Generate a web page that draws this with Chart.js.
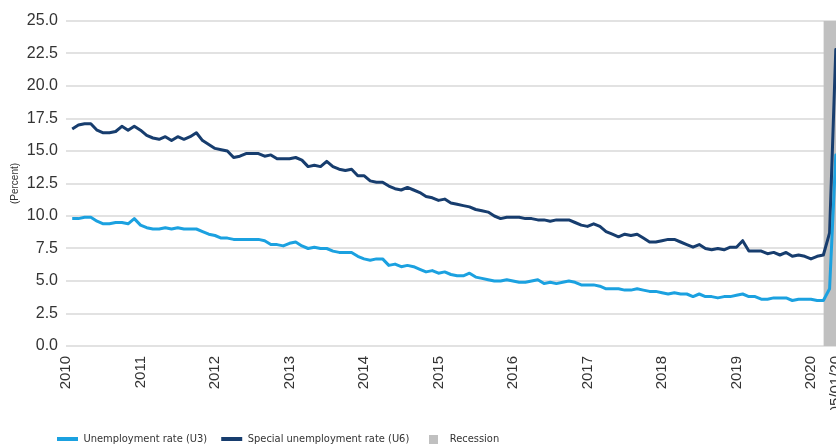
<!DOCTYPE html>
<html>
<head>
<meta charset="utf-8">
<script src="https://cdn.jsdelivr.net/npm/chart.js@4/dist/chart.umd.min.js"></script>
<style>
html,body{margin:0;padding:0;overflow:hidden;background:#fff;width:836px;height:445px}
#wrap{position:relative;width:842px;height:445px}
</style>
</head>
<body>
<div id="wrap"><canvas id="c"></canvas></div>
<script>
// Monthly series, Jan 2010 .. May 2020 (percent)
const yearLabels = ['2010','2011','2012','2013','2014','2015','2016','2017','2018','2019','2020'];
const endLabel = '05/01/20';
const u3 = [
  9.8, 9.8, 9.9, 9.9, 9.6, 9.4, 9.4, 9.5, 9.5, 9.4, 9.8, 9.3,
  9.1, 9.0, 9.0, 9.1, 9.0, 9.1, 9.0, 9.0, 9.0, 8.8, 8.6, 8.5,
  8.3, 8.3, 8.2, 8.2, 8.2, 8.2, 8.2, 8.1, 7.8, 7.8, 7.7, 7.9,
  8.0, 7.7, 7.5, 7.6, 7.5, 7.5, 7.3, 7.2, 7.2, 7.2, 6.9, 6.7,
  6.6, 6.7, 6.7, 6.2, 6.3, 6.1, 6.2, 6.1, 5.9, 5.7, 5.8, 5.6,
  5.7, 5.5, 5.4, 5.4, 5.6, 5.3, 5.2, 5.1, 5.0, 5.0, 5.1, 5.0,
  4.9, 4.9, 5.0, 5.1, 4.8, 4.9, 4.8, 4.9, 5.0, 4.9, 4.7, 4.7,
  4.7, 4.6, 4.4, 4.4, 4.4, 4.3, 4.3, 4.4, 4.3, 4.2, 4.2, 4.1,
  4.0, 4.1, 4.0, 4.0, 3.8, 4.0, 3.8, 3.8, 3.7, 3.8, 3.8, 3.9,
  4.0, 3.8, 3.8, 3.6, 3.6, 3.7, 3.7, 3.7, 3.5, 3.6, 3.6, 3.6,
  3.5, 3.5, 4.4, 14.7, 13.3
];
const u6 = [
  16.7, 17.0, 17.1, 17.1, 16.6, 16.4, 16.4, 16.5, 16.9, 16.6, 16.9, 16.6,
  16.2, 16.0, 15.9, 16.1, 15.8, 16.1, 15.9, 16.1, 16.4, 15.8, 15.5, 15.2,
  15.1, 15.0, 14.5, 14.6, 14.8, 14.8, 14.8, 14.6, 14.7, 14.4, 14.4, 14.4,
  14.5, 14.3, 13.8, 13.9, 13.8, 14.2, 13.8, 13.6, 13.5, 13.6, 13.1, 13.1,
  12.7, 12.6, 12.6, 12.3, 12.1, 12.0, 12.2, 12.0, 11.8, 11.5, 11.4, 11.2,
  11.3, 11.0, 10.9, 10.8, 10.7, 10.5, 10.4, 10.3, 10.0, 9.8, 9.9, 9.9,
  9.9, 9.8, 9.8, 9.7, 9.7, 9.6, 9.7, 9.7, 9.7, 9.5, 9.3, 9.2,
  9.4, 9.2, 8.8, 8.6, 8.4, 8.6, 8.5, 8.6, 8.3, 8.0, 8.0, 8.1,
  8.2, 8.2, 8.0, 7.8, 7.6, 7.8, 7.5, 7.4, 7.5, 7.4, 7.6, 7.6,
  8.1, 7.3, 7.3, 7.3, 7.1, 7.2, 7.0, 7.2, 6.9, 7.0, 6.9, 6.7,
  6.9, 7.0, 8.7, 22.8, 21.2
];
const recessionStartMonth = 121;   // Feb 2020 (month index from Jan 2010)
const recessionTop = 25;
const yMin = 0, yMax = 25, yStep = 2.5;

// month i is plotted at the end of the month (start of month i+1)
const pos = i => i + 1;
const toPoints = arr => arr.map((v, i) => ({x: pos(i), y: v}));
const lastMonth = u3.length - 1;
const tickValues = yearLabels.map((_, k) => k * 12).concat([lastMonth]);
const tickText = yearLabels.concat([endLabel]);

const tickFont = "'Liberation Sans', Arial, sans-serif";
const legendFont = "'DejaVu Sans Condensed', 'Liberation Sans', sans-serif";

const CANVAS_H = 445, PLOT_BOTTOM = 346;

const sq = document.createElement('canvas');
sq.width = 9; sq.height = 9;
(function(){const g = sq.getContext('2d'); g.fillStyle = '#c0c0c0'; g.fillRect(0,0,9,9);})();

const legendShift = {
  id: 'legendShift',
  afterLayout(chart) {
    if (chart.legend) { chart.legend.left = 43; chart.legend.top = 419.5; }
  }
};

new Chart(document.getElementById('c'), {
  type: 'line',
  data: {
    datasets: [
      {label: 'Unemployment rate (U3)', data: toPoints(u3), borderColor: '#1ba1e0', backgroundColor: '#1ba1e0',
       borderWidth: 3, pointRadius: 0, tension: 0, order: 0, borderJoinStyle: 'round'},
      {label: 'Special unemployment rate (U6)', data: toPoints(u6), borderColor: '#173d6e', backgroundColor: '#173d6e',
       borderWidth: 3, pointRadius: 0, tension: 0, order: 1, borderJoinStyle: 'round'},
      {label: 'Recession', data: [{x: pos(recessionStartMonth), y: recessionTop}, {x: pos(lastMonth), y: recessionTop}],
       borderWidth: 0, borderColor: 'rgba(0,0,0,0)', backgroundColor: '#c0c0c0', fill: 'origin',
       pointRadius: 0, tension: 0, order: 2}
    ]
  },
  options: {
    responsive: true,
    maintainAspectRatio: false,
    animation: false,
    events: [],
    layout: {padding: {top: 21, left: 0, right: 0, bottom: 0}},
    plugins: {
      tooltip: {enabled: false},
      legend: {
        position: 'bottom',
        align: 'start',
        labels: {
          usePointStyle: true,
          pointStyleWidth: 21,
          boxHeight: 11,
          padding: 14,
          color: '#333',
          font: {family: legendFont, size: 11},
          generateLabels(chart) {
            return chart.data.datasets.map((ds, i) => ({
              text: ds.label,
              datasetIndex: i,
              fillStyle: ds.backgroundColor,
              strokeStyle: ds.borderColor,
              lineWidth: i < 2 ? 4 : 0,
              pointStyle: i < 2 ? 'line' : sq,
              fontColor: '#333',
              hidden: false
            }));
          }
        }
      }
    },
    scales: {
      x: {
        type: 'linear',
        min: 0,
        max: pos(lastMonth),
        grid: {display: false, drawTicks: false},
        border: {display: false},
        afterBuildTicks(scale) { scale.ticks = tickValues.map(v => ({value: v})); },
        afterFit(scale) {
          scale.paddingLeft = 0; scale.paddingRight = 0;
          const lg = scale.chart.legend;
          scale.height = CANVAS_H - PLOT_BOTTOM - (lg ? lg.height : 0);
        },
        ticks: {
          autoSkip: false, maxRotation: 90, minRotation: 90, padding: 10,
          color: '#333', font: {family: tickFont, size: 15},
          callback(v) { const k = tickValues.indexOf(v); return k >= 0 ? tickText[k] : ''; }
        }
      },
      y: {
        min: yMin, max: yMax,
        grid: {color: '#e2e2e2', lineWidth: 2, drawTicks: false},
        border: {display: false},
        afterFit(scale) { scale.width = 66; scale.paddingTop = 0; scale.paddingBottom = 0; },
        ticks: {
          stepSize: yStep, padding: 8, color: '#333', font: {family: tickFont, size: 16},
          callback(v) { return v.toFixed(1); }
        },
        title: {display: true, text: '(Percent)', color: '#333', font: {family: tickFont, size: 10}, padding: {top: 9, bottom: 0}}
      }
    }
  },
  plugins: [legendShift]
});
</script>
</body>
</html>
